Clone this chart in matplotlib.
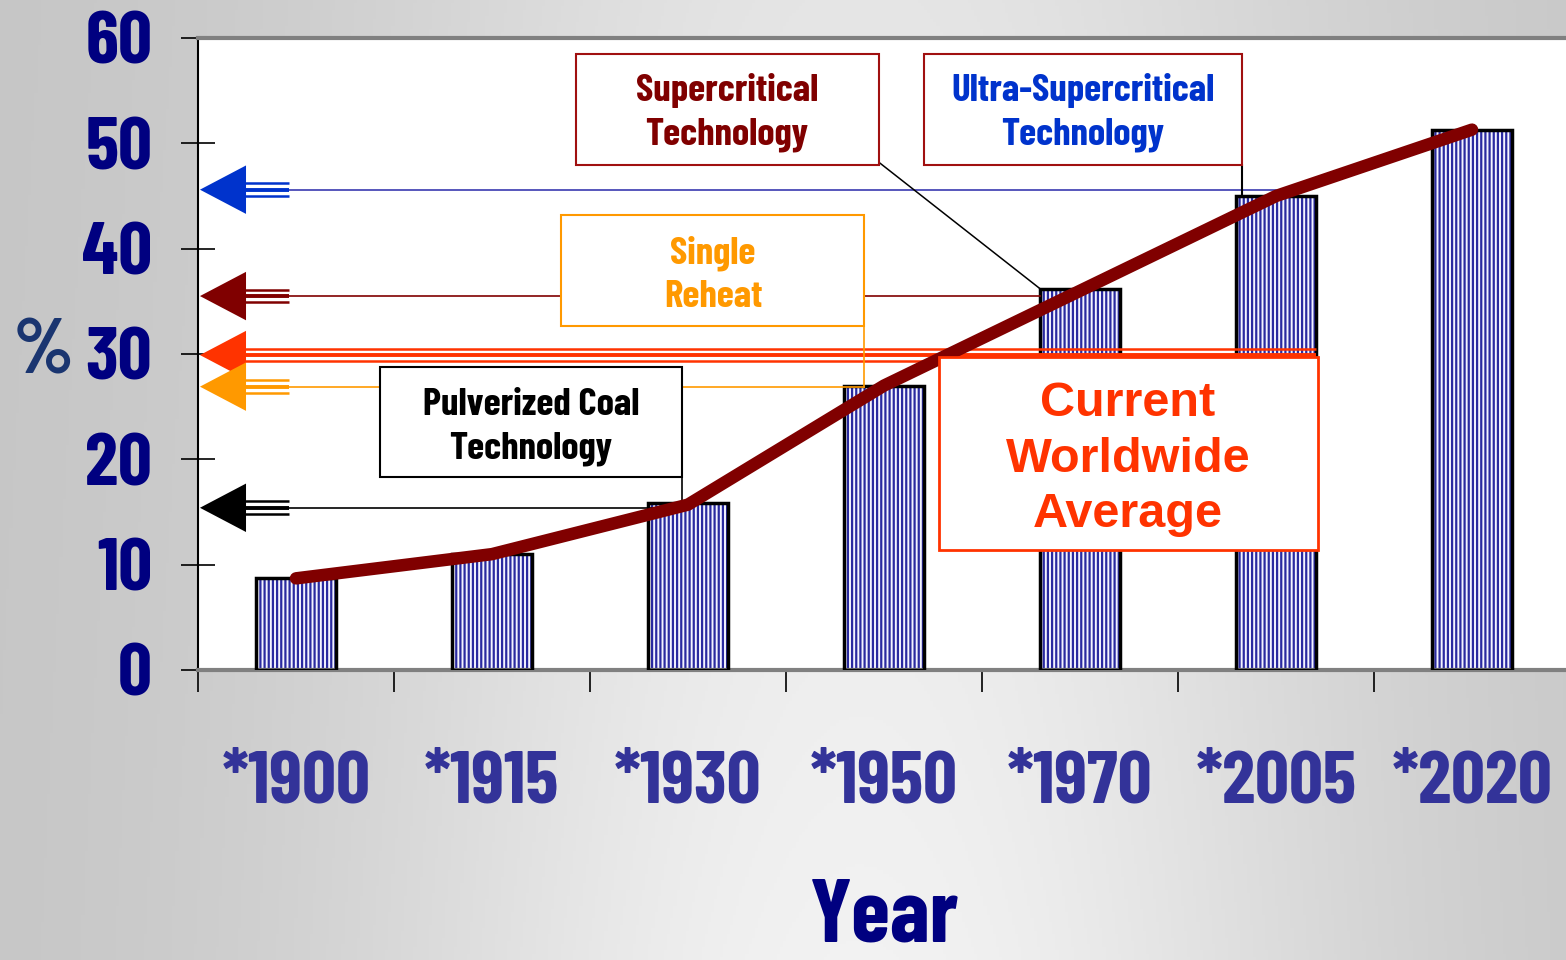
import numpy as np
import matplotlib
matplotlib.use('Agg')
import matplotlib.pyplot as plt
from matplotlib.patches import Rectangle, Polygon

# ---- data ----
years = ['*1900', '*1915', '*1930', '*1950', '*1970', '*2005', '*2020']
efficiency = [8.7, 11.0, 15.9, 27.0, 36.2, 45.0, 51.3]
trend = [8.7, 11.0, 15.7, 27.0, 36.0, 45.0, 51.3]
yticks = [0, 10, 20, 30, 40, 50, 60]
tech_levels = [45.6, 35.5, 29.9, 26.9, 15.4]
tech_colors = ['#0033CC', '#800000', '#FF3300', '#FF9900', '#000000']
tech_line_end = [5.0, 3.795, 5.205, 2.9, 1.97]

NARROW = ['Barlow Condensed', 'DejaVu Sans']
ARIAL = ['Liberation Sans', 'DejaVu Sans']
plt.rcParams['hatch.linewidth'] = 1.6

fig = plt.figure(figsize=(15.66, 9.6), dpi=100)

# background gradient
bg = fig.add_axes([0, 0, 1, 1], zorder=-10)
bg.axis('off')
X, Y = np.meshgrid(np.linspace(0, 1, 500), np.linspace(0, 1, 300))
val = 0.77 + 0.18 * np.exp(-((X - 0.55) / 0.33) ** 2) * (0.72 + 0.28 * Y)
bg.imshow(np.dstack([val, val, val]), aspect='auto', extent=[0, 1, 0, 1])
bg.set_xlim(0, 1); bg.set_ylim(0, 1)

ax = fig.add_axes([198 / 1566, 1 - 670 / 960, 1372 / 1566, 632 / 960])
ax.set_facecolor('white')
ax.set_xlim(-0.5, 6.5)
ax.set_ylim(0, 60)

ax.spines['right'].set_visible(False)
ax.spines['left'].set_color('black'); ax.spines['left'].set_linewidth(1.5)
ax.spines['top'].set_color('#808080'); ax.spines['top'].set_linewidth(3)
ax.spines['bottom'].set_color('#808080'); ax.spines['bottom'].set_linewidth(3)

x = np.arange(len(years))
ax.bar(x, efficiency, width=0.41, color='#F4F4FF', edgecolor='#2A2AA0',
       hatch='||||', linewidth=0, zorder=2)
ax.bar(x, efficiency, width=0.41, fill=False, edgecolor='black',
       linewidth=2.5, zorder=3)

ax.plot(x, trend, color='#800000', lw=9, solid_capstyle='round', zorder=6)

# arrows
for lvl, col, end in zip(tech_levels, tech_colors, tech_line_end):
    head = Polygon([[-0.49, lvl], [-0.255, lvl + 2.3], [-0.255, lvl - 2.3]],
                   closed=True, facecolor=col, edgecolor='none', zorder=7, clip_on=False)
    ax.add_patch(head)
    for off, lw in [(0.62, 1.8), (0.0, 2.8), (-0.6, 1.8)]:
        xend = end if col == '#FF3300' else -0.035
        ax.plot([-0.26, xend], [lvl + off, lvl + off], color=col, lw=lw,
                solid_capstyle='butt', zorder=5)
    if col != '#FF3300':
        lc = '#3A3AB0' if col == '#0033CC' else col
        ax.plot([-0.035, end], [lvl, lvl], color=lc, lw=1.2, zorder=4)

# connector lines
ax.plot([2.974, 3.796], [48.2, 36.2], color='black', lw=1.1, zorder=5)
ax.plot([4.827, 4.827], [47.9, 45.0], color='black', lw=1.5, zorder=5)
ax.plot([2.898, 2.898], [32.66, 26.9], color='#FF9900', lw=1.2, zorder=5)
ax.plot([1.969, 1.969], [18.32, 15.4], color='black', lw=1.2, zorder=5)

# boxes
def box(x0, x1, y0, y1, ec, lw=1.5):
    ax.add_patch(Rectangle((x0, y0), x1 - x0, y1 - y0, facecolor='white',
                           edgecolor=ec, lw=lw, zorder=8))

box(1.429, 2.974, 47.9, 58.5, '#A01010')
box(3.204, 4.827, 47.9, 58.5, '#A01010')
box(1.352, 2.898, 32.66, 43.2, '#FF9900')
box(0.429, 1.969, 18.32, 28.77, 'black')
box(3.281, 5.214, 11.4, 29.7, '#FF3300', lw=2)

kw = dict(fontsize=28, fontweight='bold', family=NARROW, ha='center', va='center',
          linespacing=1.35, zorder=9)
ax.text(2.199, 52.9, 'Supercritical\nTechnology', color='#800000', **kw)
ax.text(4.015, 52.9, 'Ultra-Supercritical\nTechnology', color='#0033CC', **kw)
ax.text(2.128, 37.5, 'Single\nReheat', color='#FF9900', **kw)
ax.text(1.199, 23.1, 'Pulverized Coal\nTechnology', color='black', **kw)
ax.text(4.245, 20.0, 'Current\nWorldwide\nAverage', color='#FF3300', fontsize=35,
        fontweight='bold', family=ARIAL, ha='center', va='center', linespacing=1.3, zorder=9)

# ticks
ax.set_yticks(yticks)
ax.set_yticklabels([str(v) for v in yticks])
ax.tick_params(axis='y', direction='inout', length=24, width=1.2, pad=21,
               colors='black', labelcolor='#000080')
for lbl in ax.get_yticklabels():
    lbl.set_fontfamily(NARROW); lbl.set_fontsize(54); lbl.set_fontweight('bold')

ax.set_xticks(np.arange(-0.5, 6.5, 1))
ax.set_xticklabels([])
ax.set_xticks(x, minor=True)
ax.set_xticklabels(years, minor=True)
ax.tick_params(axis='x', which='major', direction='out', length=16, width=1.2, color='black')
ax.tick_params(axis='x', which='minor', length=0, pad=58, labelcolor='#333399')
for lbl in ax.get_xticklabels(minor=True):
    lbl.set_fontfamily(NARROW); lbl.set_fontsize(54); lbl.set_fontweight('bold')

fig.text(43 / 1566, 1 - 354 / 960, '%', color='#1A3570', fontsize=56, fontweight='bold',
         family=NARROW, ha='center', va='center')
fig.text(885 / 1566, 0.002, 'Year', color='#000080', fontsize=64, fontweight='bold',
         family=NARROW, ha='center', va='bottom')

fig.savefig('out.png', dpi=100)
